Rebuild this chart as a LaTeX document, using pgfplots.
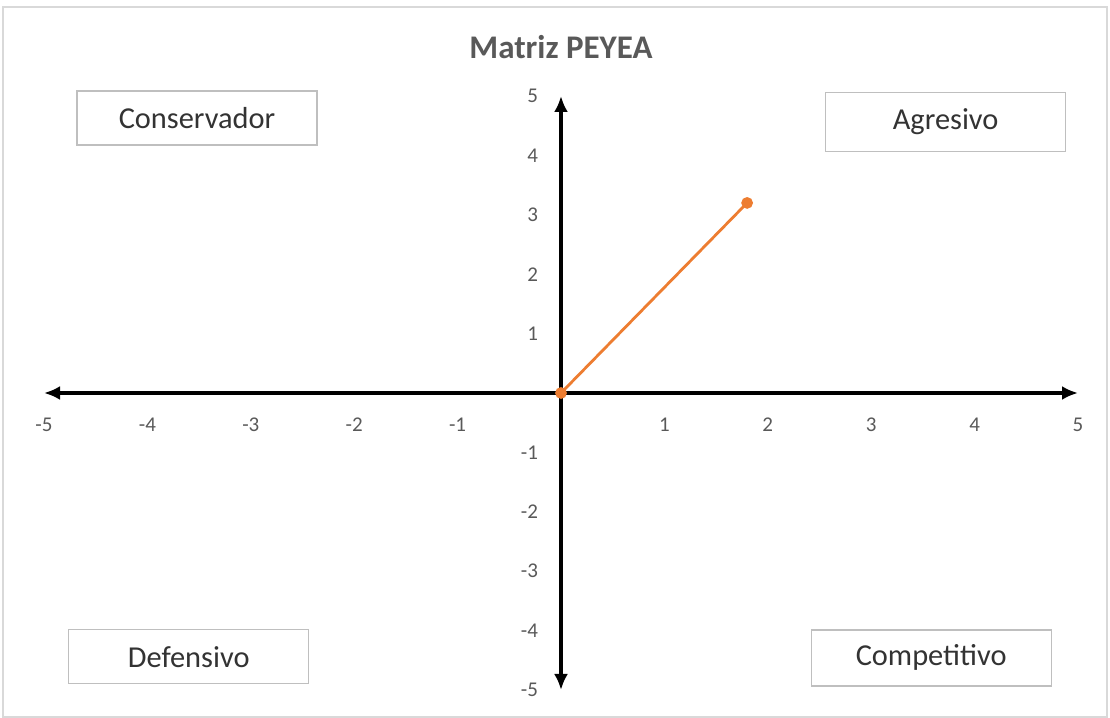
\documentclass[border=0pt]{standalone}
\usepackage{pgfplots}
\pgfplotsset{compat=1.18}
\usepackage{fontspec}
\setmainfont{Carlito}
\usetikzlibrary{arrows.meta}
\definecolor{tickgray}{HTML}{595959}
\definecolor{orangeS}{HTML}{ED7D31}
\definecolor{bordergray}{HTML}{D9D9D9}
\definecolor{boxgray}{HTML}{BFBFBF}
\begin{document}
\begin{tikzpicture}
\useasboundingbox (-22pt,-14pt) rectangle (533pt,345pt);
\draw[bordergray, line width=1.4pt] (-20.5pt,-13.5pt) rectangle (531.5pt,341.5pt);
\node[text=tickgray, font=\fontsize{16.5}{18}\selectfont\bfseries] at (258.5pt,321.5pt) {Matriz PEYEA};
\begin{axis}[
  scale only axis,
  width=517pt, height=297pt,
  xmin=-5, xmax=5, ymin=-5, ymax=5,
  axis lines=middle,
  axis line style={line width=1.6pt, black, {Latex[length=8pt,width=7pt]}-{Latex[length=8pt,width=7pt]}},
  xtick={-5,-4,-3,-2,-1,1,2,3,4,5},
  ytick={-5,-4,-3,-2,-1,1,2,3,4,5},
  major tick length=0pt,
  /pgf/number format/assume math mode=true,
  tick label style={text=tickgray, font=\fontsize{10.5}{12}\selectfont},
  xticklabel style={yshift=-9pt},
  yticklabel style={xshift=-8pt},
  clip=false,
]
\addplot[color=orangeS, line width=1.4pt, mark=*, mark size=2.2pt, mark options={fill=orangeS, draw=orangeS}]
  coordinates {(0,0) (1.8,3.2)};
\tikzset{qbox/.style={draw=boxgray, line width=0.6pt, fill=white, minimum width=120pt, text=black!80, font=\fontsize{15.2}{17}\selectfont}}
\node[qbox, minimum height=27pt] at (axis cs:-3.52,4.63) {Conservador};
\node[qbox, minimum height=29.5pt] at (axis cs:3.72,4.56) {Agresivo};
\node[qbox, minimum height=27pt] at (axis cs:-3.60,-4.44) {Defensivo};
\node[qbox, minimum height=28pt] at (axis cs:3.58,-4.46) {Competitivo};
\end{axis}
\end{tikzpicture}
\end{document}
